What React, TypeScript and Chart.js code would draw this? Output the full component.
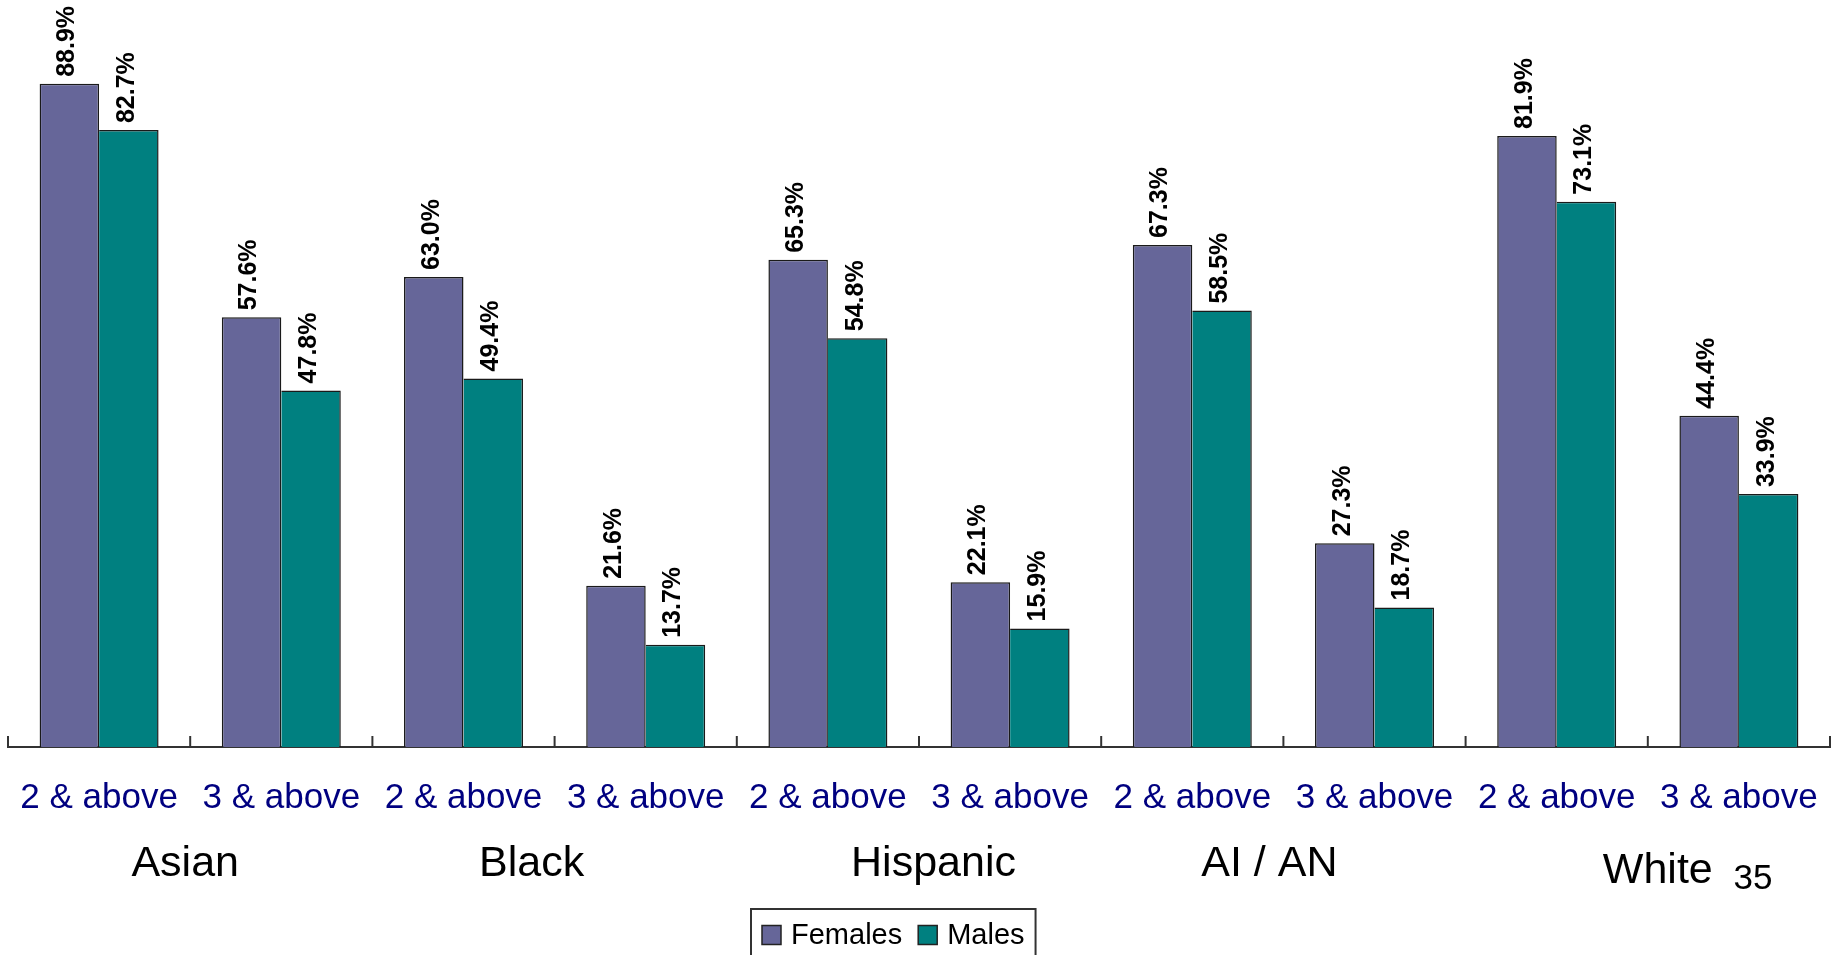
import React, { useEffect, useRef } from "react";
import { Chart, registerables } from "chart.js";

Chart.register(...registerables);

// ---------- Data ----------
const categories = [
  "2 & above", "3 & above",
  "2 & above", "3 & above",
  "2 & above", "3 & above",
  "2 & above", "3 & above",
  "2 & above", "3 & above",
];
const groups = ["Asian", "Black", "Hispanic", "AI / AN", "White"];
const femalesValues = [88.9, 57.6, 63.0, 21.6, 65.3, 22.1, 67.3, 27.3, 81.9, 44.4];
const malesValues = [82.7, 47.8, 49.4, 13.7, 54.8, 15.9, 58.5, 18.7, 73.1, 33.9];
const seriesLabels = ["Females", "Males"];
const seriesColors = ["#666699", "#008080"];
const pageNumber = "35";

// ---------- Layout / style ----------
const FONT = '"Liberation Sans", Arial, Helvetica, sans-serif';
const W = 1839;
const H = 955;
const LAYOUT = {
  groupOffsetX: [-5, -23, 14.5, -14, 10],
  groupBaseline: [876, 876, 876, 876, 883],
  groupFontSize: 43,
  pageNumX: 1753,
  pageNumBaseline: 889,
  pageNumFontSize: 35,
  legendLeft: 751,
  legendTop: 909,
  legendPadX: 11,
  legendBoxTop: 925.5,
  legendBoxSize: 19,
  legendTextGap: 10,
  legendItemGap: 16,
  legendBaseline: 944,
  legendFontSize: 29,
  valueFontSize: 25,
  valueGap: 7,
  tickUp: 11,
};

const valueLabelPlugin = {
  id: "valueLabels",
  afterDatasetsDraw(chart: any) {
    const ctx = chart.ctx;
    ctx.save();
    ctx.font = `bold ${LAYOUT.valueFontSize}px ${FONT}`;
    ctx.fillStyle = "#000";
    ctx.textAlign = "left";
    ctx.textBaseline = "middle";
    chart.data.datasets.forEach((ds: any, di: number) => {
      const meta = chart.getDatasetMeta(di);
      meta.data.forEach((bar: any, i: number) => {
        const v = ds.data[i] as number;
        ctx.save();
        ctx.translate(bar.x - 2, bar.y - LAYOUT.valueGap);
        ctx.rotate(-Math.PI / 2);
        ctx.fillText(v.toFixed(1) + "%", 0, 0);
        ctx.restore();
      });
    });
    ctx.restore();
  },
};

const decorPlugin = {
  id: "decor",
  afterDraw(chart: any) {
    const ctx = chart.ctx;
    const xs = chart.scales.x;
    const n = chart.data.labels.length;
    const half = (xs.getPixelForValue(1) - xs.getPixelForValue(0)) / 2;
    const bottom = chart.chartArea.bottom;

    // upward tick marks at category boundaries
    ctx.save();
    ctx.strokeStyle = "#333";
    ctx.lineWidth = 2;
    for (let i = 0; i <= n; i++) {
      const px = i < n ? xs.getPixelForValue(i) - half : xs.getPixelForValue(n - 1) + half;
      ctx.beginPath();
      ctx.moveTo(px, bottom);
      ctx.lineTo(px, bottom - LAYOUT.tickUp);
      ctx.stroke();
    }
    ctx.restore();

    // group labels
    ctx.save();
    ctx.fillStyle = "#000";
    ctx.textAlign = "center";
    ctx.textBaseline = "alphabetic";
    ctx.font = `${LAYOUT.groupFontSize}px ${FONT}`;
    groups.forEach((g, gi) => {
      const mid = (xs.getPixelForValue(gi * 2) + xs.getPixelForValue(gi * 2 + 1)) / 2;
      ctx.fillText(g, mid + LAYOUT.groupOffsetX[gi], LAYOUT.groupBaseline[gi]);
    });
    ctx.font = `${LAYOUT.pageNumFontSize}px ${FONT}`;
    ctx.fillText(pageNumber, LAYOUT.pageNumX, LAYOUT.pageNumBaseline);
    ctx.restore();

    // legend
    ctx.save();
    ctx.font = `${LAYOUT.legendFontSize}px ${FONT}`;
    ctx.textAlign = "left";
    ctx.textBaseline = "alphabetic";
    let x = LAYOUT.legendLeft + LAYOUT.legendPadX;
    chart.data.datasets.forEach((ds: any, di: number) => {
      ctx.fillStyle = ds.backgroundColor;
      ctx.fillRect(x, LAYOUT.legendBoxTop, LAYOUT.legendBoxSize, LAYOUT.legendBoxSize);
      ctx.strokeStyle = "#222";
      ctx.lineWidth = 1.5;
      ctx.strokeRect(x, LAYOUT.legendBoxTop, LAYOUT.legendBoxSize, LAYOUT.legendBoxSize);
      x += LAYOUT.legendBoxSize + LAYOUT.legendTextGap;
      ctx.fillStyle = "#000";
      ctx.fillText(ds.label, x, LAYOUT.legendBaseline);
      x += ctx.measureText(ds.label).width;
      if (di < chart.data.datasets.length - 1) x += LAYOUT.legendItemGap;
    });
    const right = x + LAYOUT.legendPadX;
    ctx.strokeStyle = "#333";
    ctx.lineWidth = 2;
    ctx.strokeRect(LAYOUT.legendLeft, LAYOUT.legendTop, right - LAYOUT.legendLeft, 100);
    ctx.restore();
  },
};

export default function App() {
  const ref = useRef<HTMLCanvasElement | null>(null);
  useEffect(() => {
    if (!ref.current) return;
    const chart = new Chart(ref.current, {
      type: "bar",
      data: {
        labels: categories,
        datasets: [
          {
            label: seriesLabels[0],
            data: femalesValues,
            backgroundColor: seriesColors[0],
            borderColor: "#1a1a1a",
            borderWidth: { top: 1.5, left: 1.5, right: 1.5, bottom: 0 },
          },
          {
            label: seriesLabels[1],
            data: malesValues,
            backgroundColor: seriesColors[1],
            borderColor: "#1a1a1a",
            borderWidth: { top: 1.5, left: 0, right: 1.5, bottom: 0 },
          },
        ],
      },
      options: {
        animation: false,
        responsive: false,
        devicePixelRatio: 1,
        layout: { padding: { left: 8, right: 9, top: 1, bottom: 106 } },
        datasets: { bar: { categoryPercentage: 0.653, barPercentage: 1 } } as any,
        plugins: {
          legend: { display: false },
          tooltip: { enabled: false },
        },
        scales: {
          x: {
            grid: { display: false, drawTicks: false, tickLength: 0 },
            border: { display: true, color: "#333", width: 2 },
            ticks: {
              color: "#000080",
              font: { family: FONT, size: 35 },
              padding: 30,
              maxRotation: 0,
              autoSkip: false,
            },
            afterFit(scale: any) {
              scale.paddingLeft = 0;
              scale.paddingRight = 0;
            },
          },
          y: { display: false, min: 0, max: 100 },
        },
      } as any,
      plugins: [valueLabelPlugin, decorPlugin],
    });
    return () => chart.destroy();
  }, []);

  return (
    <div style={{ position: "absolute", left: 0, top: 0, width: W, height: H, overflow: "hidden", background: "#fff" }}>
      <canvas ref={ref} width={W} height={H} style={{ display: "block" }} />
    </div>
  );
}
